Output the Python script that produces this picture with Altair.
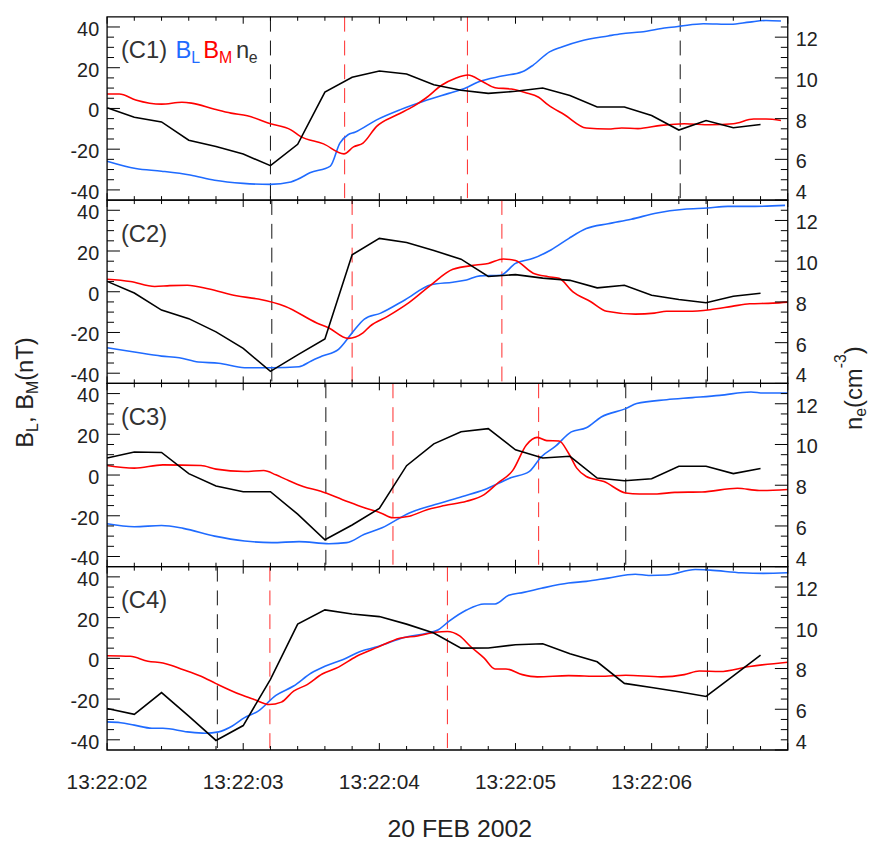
import altair as alt
import pandas as pd

# ---------------- data (time in seconds after 13:22:02) ----------------
T_NE = [0.0, 0.2, 0.4, 0.6, 0.8, 1.0, 1.2, 1.4, 1.6, 1.8, 2.0, 2.2, 2.4,
        2.6, 2.8, 3.0, 3.2, 3.4, 3.6, 3.8, 4.0, 4.2, 4.4, 4.6, 4.8]

C1_NE = [8.53, 8.07, 7.84, 6.94, 6.63, 6.26, 5.69, 6.74, 9.30, 10.03, 10.34, 10.19, 9.66,
         9.39, 9.24, 9.34, 9.50, 9.14, 8.57, 8.57, 8.15, 7.44, 7.91, 7.55, 7.71]
C2_NE = [9.01, 8.44, 7.60, 7.18, 6.53, 5.72, 4.59, 5.40, 6.18, 10.31, 11.12, 10.92, 10.52,
         10.10, 9.25, 9.34, 9.17, 9.06, 8.69, 8.82, 8.33, 8.12, 7.96, 8.28, 8.43]
C3_NE = [9.34, 9.63, 9.61, 8.57, 7.96, 7.68, 7.68, 6.58, 5.32, 6.05, 6.86, 8.96, 10.03,
         10.63, 10.78, 9.74, 9.34, 9.42, 8.35, 8.22, 8.32, 8.93, 8.93, 8.57, 8.82]
C4_NE = [6.04, 5.75, 6.82, 5.66, 4.47, 5.20, 7.47, 10.18, 10.88, 10.68, 10.55, 10.18, 9.74,
         9.00, 9.01, 9.17, 9.22, 8.72, 8.33, 7.27, 7.07, 6.86, 6.63, 7.64, 8.66]

C1_BL_T = [0, 0.21, 0.40, 0.61, 0.79, 1.0, 1.2, 1.35, 1.40, 1.49, 1.64, 1.71, 1.77, 1.82, 1.98,
           2.15, 2.32, 2.51, 2.63, 2.73, 2.90, 3.05, 3.13, 3.25, 3.34, 3.48, 3.68, 3.78, 3.92,
           4.11, 4.21, 4.38, 4.58, 4.72, 4.84, 4.95]
C1_BL = [-25.9, -29.5, -30.8, -32.7, -35.3, -36.8, -37.3, -36.1, -34.8, -31.6, -28.3, -17.0,
         -12.9, -11.7, -5.6, -0.7, 3.4, 7.4, 9.9, 13.1, 15.9, 18.0, 21.3, 27.8, 30.2, 33.1,
         35.6, 36.7, 37.5, 39.6, 40.4, 41.6, 41.3, 42.4, 43.2, 42.9]
C1_BM_T = [0, 0.09, 0.21, 0.40, 0.55, 0.62, 0.79, 0.91, 1.03, 1.2, 1.35, 1.42, 1.59, 1.74, 1.81,
           1.88, 1.98, 2.13, 2.25, 2.34, 2.46, 2.56, 2.65, 2.76, 2.85, 2.97, 3.07, 3.17, 3.24,
           3.36, 3.52, 3.68, 3.78, 3.90, 4.07, 4.24, 4.43, 4.60, 4.75, 4.84, 4.95]
C1_BM = [7.1, 7.1, 4.2, 2.1, 3.0, 2.6, -0.4, -2.3, -3.6, -7.5, -10.5, -13.7, -17.4, -22.3,
         -18.9, -17.0, -8.8, -3.1, 1.0, 5.0, 11.5, 14.8, 16.4, 13.1, 10.2, 9.5, 7.8, 5.5, 1.7,
         -3.1, -9.6, -10.1, -9.6, -9.9, -8.3, -7.5, -8.0, -7.5, -5.2, -5.2, -5.9]

C2_BL_T = [0, 0.2, 0.4, 0.53, 0.67, 0.82, 1.01, 1.21, 1.41, 1.50, 1.58, 1.70, 1.80, 1.89, 2.01,
           2.19, 2.38, 2.54, 2.64, 2.74, 2.89, 3.00, 3.13, 3.26, 3.39, 3.52, 3.68, 3.85, 4.04,
           4.24, 4.41, 4.56, 4.76, 4.98]
C2_BL = [-27.5, -29.6, -31.6, -32.4, -34.5, -35.1, -37.3, -37.3, -36.8, -34.0, -31.6, -28.3,
         -20.2, -13.4, -10.5, -3.9, 3.4, 4.7, 5.8, 7.8, 8.1, 13.9, 16.4, 20.5, 26.1, 31.0,
         33.4, 35.6, 38.7, 40.5, 41.1, 41.9, 41.9, 42.4]
C2_BM_T = [0, 0.17, 0.35, 0.46, 0.59, 0.75, 0.95, 1.11, 1.31, 1.54, 1.63, 1.77, 1.88, 1.93,
           2.06, 2.22, 2.38, 2.54, 2.71, 2.80, 2.91, 3.00, 3.13, 3.24, 3.32, 3.42, 3.55, 3.67,
           3.88, 4.02, 4.11, 4.27, 4.43, 4.59, 4.72, 4.89, 5.0]
C2_BM = [6.1, 5.0, 2.6, 3.0, 3.2, 1.3, -2.0, -3.6, -7.2, -15.3, -17.8, -22.9, -20.2, -17.0,
         -12.1, -5.2, 3.4, 11.0, 13.1, 13.9, 16.1, 15.3, 9.1, 7.4, 6.6, 0.1, -4.8, -9.6,
         -11.0, -10.5, -9.6, -9.6, -8.8, -7.2, -5.9, -5.6, -5.1]

C3_BL_T = [0, 0.2, 0.4, 0.56, 0.79, 1.01, 1.21, 1.41, 1.63, 1.76, 1.89, 2.02, 2.22, 2.41, 2.61,
           2.77, 2.97, 3.10, 3.19, 3.29, 3.41, 3.52, 3.63, 3.81, 3.89, 4.11, 4.30, 4.50, 4.73,
           4.82, 5.0]
C3_BL = [-23.9, -25.4, -24.8, -26.2, -30.0, -32.4, -33.2, -32.7, -33.7, -33.2, -29.1, -25.9,
         -18.6, -14.5, -10.5, -7.2, -1.2, 1.7, 9.0, 13.9, 21.2, 23.2, 28.5, 32.6, 35.1, 37.0,
         38.0, 39.1, 40.8, 40.3, 40.3]
C3_BM_T = [0, 0.2, 0.41, 0.69, 0.80, 1.01, 1.15, 1.24, 1.31, 1.44, 1.57, 1.73, 1.89, 2.01,
           2.10, 2.22, 2.35, 2.48, 2.64, 2.77, 2.87, 2.98, 3.08, 3.16, 3.23, 3.32, 3.39, 3.45,
           3.52, 3.65, 3.81, 3.91, 4.04, 4.17, 4.37, 4.63, 4.79, 5.0]
C3_BM = [4.7, 3.4, 5.0, 4.7, 2.9, 1.7, 2.2, 0.1, -2.0, -5.6, -8.0, -12.1, -16.1, -18.6, -21.0,
         -20.2, -17.0, -15.0, -12.9, -9.6, -3.9, 2.3, 14.8, 18.5, 16.9, 16.7, 10.7, 3.4, -0.7,
         -3.2, -8.8, -9.3, -9.3, -8.5, -8.3, -6.5, -7.6, -7.1]

C4_BL_T = [0, 0.1, 0.2, 0.33, 0.41, 0.59, 0.72, 0.82, 0.92, 1.01, 1.11, 1.24, 1.37, 1.50, 1.60,
           1.73, 1.86, 1.99, 2.19, 2.35, 2.43, 2.51, 2.64, 2.77, 2.85, 2.95, 3.06, 3.19, 3.39,
           3.52, 3.68, 3.88, 3.98, 4.11, 4.32, 4.43, 4.66, 4.82, 5.0]
C4_BL = [-31.2, -31.6, -32.8, -34.3, -34.3, -36.1, -36.8, -36.1, -33.2, -29.1, -25.9, -18.2,
         -13.6, -7.2, -3.9, -0.7, 3.4, 5.8, 10.4, 12.3, 13.9, 18.1, 23.7, 26.7, 26.7, 31.0,
         32.4, 34.4, 37.0, 37.8, 39.4, 41.3, 40.7, 40.9, 43.6, 43.3, 42.0, 41.7, 42.0]
C4_BM_T = [0, 0.17, 0.30, 0.41, 0.56, 0.69, 0.80, 0.98, 1.08, 1.19, 1.28, 1.37, 1.47, 1.58,
           1.70, 1.83, 1.99, 2.15, 2.28, 2.41, 2.50, 2.59, 2.67, 2.77, 2.85, 2.93, 3.05, 3.16,
           3.39, 3.62, 3.81, 4.07, 4.24, 4.35, 4.50, 4.72, 5.0]
C4_BM = [1.3, 1.0, -1.4, -2.3, -5.6, -8.8, -12.4, -17.8, -20.2, -22.7, -21.5, -16.1, -12.9,
         -7.7, -4.3, 0.9, 5.5, 9.9, 11.0, 12.8, 13.2, 11.0, 5.8, 0.1, -5.2, -5.2, -8.0, -9.1,
         -8.5, -8.8, -8.3, -9.1, -8.0, -6.2, -6.5, -4.0, -1.9]

# vertical dashed markers (seconds after 13:22:02)
C1_BLACK_LINES = [1.20, 4.21]
C1_RED_LINES = [1.745, 2.647]
C2_BLACK_LINES = [1.21, 4.41]
C2_RED_LINES = [1.80, 2.90]
C3_BLACK_LINES = [1.607, 3.81]
C3_RED_LINES = [2.10, 3.17]
C4_BLACK_LINES = [0.81, 4.41]
C4_RED_LINES = [1.196, 2.50]

PANEL_NAMES = ["(C1)", "(C2)", "(C3)", "(C4)"]

TIME_TICKS = [0, 1, 2, 3, 4]
TIME_LABELS = ["13:22:02", "13:22:03", "13:22:04", "13:22:05", "13:22:06"]
X_MAJOR = [0, 1, 2, 3, 4, 5]
X_MINOR = [0.2, 0.4, 0.6, 0.8, 1.2, 1.4, 1.6, 1.8, 2.2, 2.4, 2.6, 2.8, 3.2, 3.4, 3.6, 3.8,
           4.2, 4.4, 4.6, 4.8]
B_MAJOR = [-40, -20, 0, 20, 40]
B_LABELS = ["-40", "-20", "0", "20", "40"]
B_MINOR = [-35, -30, -25, -15, -10, -5, 5, 10, 15, 25, 30, 35]
NE_MAJOR = [4, 6, 8, 10, 12]
NE_UPPER = [6, 8, 10, 12]
NE_UPPER_LABELS = ["6", "8", "10", "12"]
NE_BOTTOM = [4]
NE_BOTTOM_LABELS = ["4"]
NE_MINOR = [4.5, 5, 5.5, 6.5, 7, 7.5, 8.5, 9, 9.5, 10.5, 11, 11.5, 12.5]

PANELS = [
    (C1_NE, C1_BL_T, C1_BL, C1_BM_T, C1_BM, C1_BLACK_LINES, C1_RED_LINES),
    (C2_NE, C2_BL_T, C2_BL, C2_BM_T, C2_BM, C2_BLACK_LINES, C2_RED_LINES),
    (C3_NE, C3_BL_T, C3_BL, C3_BM_T, C3_BM, C3_BLACK_LINES, C3_RED_LINES),
    (C4_NE, C4_BL_T, C4_BL, C4_BM_T, C4_BM, C4_BLACK_LINES, C4_RED_LINES),
]

# ---------------- layout / style ----------------
W = 687
PH = 185
H = 4 * PH
TOPS = [0, PH, 2 * PH, 3 * PH]
FONT = "Liberation Sans"
TXT = "#222222"
BLUE = "#1f6bff"
RED = "#ff0000"
AXC = "#000000"

XS = alt.Scale(domain=[0, 5], nice=False, zero=False)


def bscale(top):
    return alt.Scale(domain=[-45, 45], range=[top + PH, top], nice=False, zero=False)


def nscale(top):
    return alt.Scale(domain=[4, 13], range=[top + PH, top], nice=False, zero=False)


def one():
    return pd.DataFrame({"k": [0]})


def txt(s, x, y, size=24, color=TXT, angle=None, align="left", baseline="alphabetic"):
    kw = dict(font=FONT, fontSize=size, color=color, align=align, baseline=baseline)
    if angle is not None:
        kw["angle"] = angle
    return alt.Chart(one()).mark_text(**kw).encode(
        x=alt.value(x), y=alt.value(y), text=alt.value(s))


layers = []
for i, top in enumerate(TOPS):
    ne, blt, bl, bmt, bm, blk, red = PANELS[i]
    # dashed event markers
    layers.append(alt.Chart(pd.DataFrame({"t": blk})).mark_rule(
        color="#111111", strokeWidth=1, strokeDash=[15, 9]).encode(
        x=alt.X("t:Q", scale=XS, axis=None), y=alt.value(top), y2=alt.value(top + PH)))
    layers.append(alt.Chart(pd.DataFrame({"t": red})).mark_rule(
        color="#ff2a2a", strokeWidth=1, strokeDash=[15, 9]).encode(
        x=alt.X("t:Q", scale=XS, axis=None), y=alt.value(top), y2=alt.value(top + PH)))
    # B_L, B_M
    layers.append(alt.Chart(pd.DataFrame({"t": blt, "v": bl})).mark_line(
        color=BLUE, strokeWidth=1.6, interpolate="monotone").encode(
        x=alt.X("t:Q", scale=XS, axis=None), y=alt.Y("v:Q", scale=bscale(top), axis=None)))
    layers.append(alt.Chart(pd.DataFrame({"t": bmt, "v": bm})).mark_line(
        color=RED, strokeWidth=1.6, interpolate="monotone").encode(
        x=alt.X("t:Q", scale=XS, axis=None), y=alt.Y("v:Q", scale=bscale(top), axis=None)))
    # n_e
    layers.append(alt.Chart(pd.DataFrame({"t": T_NE, "v": ne})).mark_line(
        color="#000000", strokeWidth=1.6).encode(
        x=alt.X("t:Q", scale=XS, axis=None), y=alt.Y("v:Q", scale=nscale(top), axis=None)))
    # left ticks (B)
    for vals, ln in ((B_MAJOR, 13), (B_MINOR, 7)):
        layers.append(alt.Chart(pd.DataFrame({"v": vals})).mark_rule(
            color=AXC, strokeWidth=1).encode(
            y=alt.Y("v:Q", scale=bscale(top), axis=None), x=alt.value(0), x2=alt.value(ln)))
    # right ticks (n_e)
    for vals, ln in ((NE_MAJOR, 13), (NE_MINOR, 7)):
        layers.append(alt.Chart(pd.DataFrame({"v": vals})).mark_rule(
            color=AXC, strokeWidth=1).encode(
            y=alt.Y("v:Q", scale=nscale(top), axis=None), x=alt.value(W - ln), x2=alt.value(W)))
    # top / bottom time ticks
    for vals, ln in ((X_MAJOR, 7), (X_MINOR, 4)):
        layers.append(alt.Chart(pd.DataFrame({"v": vals})).mark_rule(
            color=AXC, strokeWidth=1).encode(
            x=alt.X("v:Q", scale=XS, axis=None), y=alt.value(top), y2=alt.value(top + ln)))
        layers.append(alt.Chart(pd.DataFrame({"v": vals})).mark_rule(
            color=AXC, strokeWidth=1).encode(
            x=alt.X("v:Q", scale=XS, axis=None), y=alt.value(top + PH - ln), y2=alt.value(top + PH)))
    # frame
    layers.append(alt.Chart(one()).mark_rect(
        fillOpacity=0, stroke=AXC, strokeWidth=1.3).encode(
        x=alt.value(0), x2=alt.value(W), y=alt.value(top), y2=alt.value(top + PH)))
    # tick labels
    layers.append(alt.Chart(pd.DataFrame({"v": B_MAJOR, "lab": B_LABELS})).mark_text(
        font=FONT, fontSize=20, color=TXT, align="right", baseline="middle", dy=3).encode(
        y=alt.Y("v:Q", scale=bscale(top), axis=None), x=alt.value(-8), text="lab:N"))
    layers.append(alt.Chart(pd.DataFrame({"v": NE_UPPER, "lab": NE_UPPER_LABELS})).mark_text(
        font=FONT, fontSize=20, color=TXT, align="left", baseline="middle", dy=3).encode(
        y=alt.Y("v:Q", scale=nscale(top), axis=None), x=alt.value(W + 8), text="lab:N"))
    layers.append(alt.Chart(pd.DataFrame({"v": NE_BOTTOM, "lab": NE_BOTTOM_LABELS})).mark_text(
        font=FONT, fontSize=20, color=TXT, align="left", baseline="middle", dy=-7).encode(
        y=alt.Y("v:Q", scale=nscale(top), axis=None), x=alt.value(W + 8), text="lab:N"))
    # panel name
    layers.append(txt(PANEL_NAMES[i], 14, top + 42, size=24, color="#333333"))

# legend pieces in panel 1
layers += [
    txt("B", 69, 42, 24, BLUE), txt("L", 85, 47, 16, BLUE),
    txt("B", 97, 42, 24, RED), txt("M", 113, 47, 16, RED),
    txt("n", 130, 42, 24, "#333333"), txt("e", 143, 47, 16, "#333333"),
]

# time tick labels
layers.append(alt.Chart(pd.DataFrame({"t": TIME_TICKS, "lab": TIME_LABELS})).mark_text(
    font=FONT, fontSize=21, color=TXT, align="center", baseline="alphabetic").encode(
    x=alt.X("t:Q", scale=XS, axis=None), y=alt.value(H + 39), text="lab:N"))
layers.append(txt("20 FEB 2002", 356, H + 88, 25, TXT, align="center"))

# left axis title  B_L, B_M(nT)  (rotated)
layers += [
    txt("B", -75, 435, 24, TXT, angle=270), txt("L", -70, 419, 16, TXT, angle=270),
    txt(", B", -75, 410, 24, TXT, angle=270), txt("M", -70, 380.7, 16, TXT, angle=270),
    txt("(nT)", -75, 367.4, 24, TXT, angle=270),
]
# right axis title  n_e(cm^-3)  (rotated)
layers += [
    txt("n", 762, 417, 24, TXT, angle=270), txt("e", 766, 403.7, 16, TXT, angle=270),
    txt("(cm", 762, 394.8, 24, TXT, angle=270), txt("-3", 746, 354.8, 16, TXT, angle=270),
    txt(")", 762, 340.6, 24, TXT, angle=270),
]

chart = alt.layer(*layers).resolve_scale(y="independent").properties(
    width=W, height=H,
    autosize=alt.AutoSizeParams(type="none"),
    padding={"left": 100, "top": 5, "right": 83, "bottom": 90},
).configure_view(stroke=None)

chart.save("out.html", embed_options={"renderer": "svg", "actions": False})
